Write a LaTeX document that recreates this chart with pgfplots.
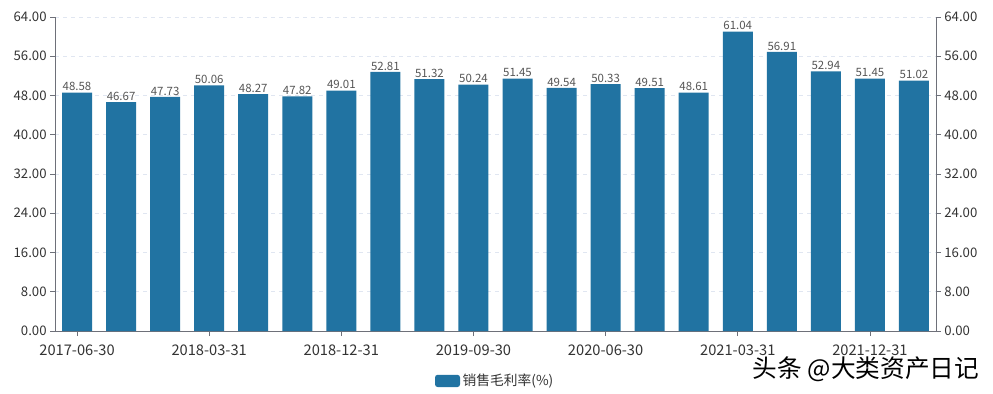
\documentclass[border=0pt]{standalone}
\usepackage{pgfplots}
\pgfplotsset{compat=1.18}
\usepackage{fontspec}
\setmainfont{Noto Sans CJK SC}
\definecolor{barc}{RGB}{33,115,162}
\definecolor{axc}{RGB}{110,112,121}
\definecolor{gridc}{RGB}{224,230,241}
\definecolor{txt}{RGB}{51,51,51}
\definecolor{lbl}{RGB}{85,85,85}
\pgfplotstableread{
x y
0 48.58
1 46.67
2 47.73
3 50.06
4 48.27
5 47.82
6 49.01
7 52.81
8 51.32
9 50.24
10 51.45
11 49.54
12 50.33
13 49.51
14 48.61
15 61.04
16 56.91
17 52.94
18 51.45
19 51.02
}\datatab
\begin{document}
\begin{tikzpicture}
\path[use as bounding box] (0,0) rectangle (744.75pt,294.75pt);
\begin{axis}[
  at={(41.25pt,46.5pt)}, anchor=south west,
  scale only axis, width=660.75pt, height=235.5pt,
  xmin=-0.5, xmax=19.5, ymin=0, ymax=64,
  axis x line*=bottom, axis y line*=left,
  axis line style={axc, line width=0.6pt},
  ytick={0,8,...,64},
  xtick={0,3,6,9,12,15,18},
  xticklabels={2017-06-30,2018-03-31,2018-12-31,2019-09-30,2020-06-30,2021-03-31,2021-12-31},
  tick align=outside, major tick length=3.75pt,
  tick style={axc, line width=0.6pt},
  ymajorgrids, grid style={gridc, dashed, line width=0.6pt},
  /pgf/number format/assume math mode=true,
  yticklabel={\pgfmathprintnumber[fixed,precision=2,zerofill]{\tick}},
  yticklabel style={font=\fontsize{9.9pt}{11pt}\selectfont, text=txt, xshift=1pt},
  xticklabel style={font=\fontsize{11pt}{12pt}\selectfont, text=txt, yshift=-3pt},
  ybar, bar width=22.5pt,
  nodes near coords={\pgfmathprintnumber[fixed,precision=2,zerofill,assume math mode=true]{\pgfplotspointmeta}},
  nodes near coords style={font=\fontsize{8.6pt}{10pt}\selectfont, text=lbl, inner sep=1pt, anchor=south},
  legend style={at={(0.5,-0.159)}, anchor=center, draw=none, fill=none,
    font=\fontsize{10.3pt}{12pt}\selectfont, text=txt, inner sep=1pt},
  legend image code/.code={\fill[barc, rounded corners=2pt] (0pt,-4.6pt) rectangle (18.75pt,4.6pt);},
]
\addplot[fill=barc, draw=none] table[x=x,y=y]{\datatab};
\addlegendentry{销售毛利率(\%)}
\end{axis}
\begin{axis}[
  at={(41.25pt,46.5pt)}, anchor=south west,
  scale only axis, width=660.75pt, height=235.5pt,
  xmin=-0.5, xmax=19.5, ymin=0, ymax=64,
  hide x axis, axis y line*=right,
  axis line style={axc, line width=0.6pt},
  ytick={0,8,...,64},
  tick align=outside, major tick length=3.75pt,
  tick style={axc, line width=0.6pt},
  /pgf/number format/assume math mode=true,
  yticklabel={\pgfmathprintnumber[fixed,precision=2,zerofill]{\tick}},
  yticklabel style={font=\fontsize{9.9pt}{11pt}\selectfont, text=txt, xshift=-1pt},
]
\end{axis}
\node[anchor=center, font=\fontsize{18.5pt}{20pt}\selectfont, text=black] at (649.5pt,17.5pt) {头条 @大类资产日记};
\end{tikzpicture}
\end{document}
